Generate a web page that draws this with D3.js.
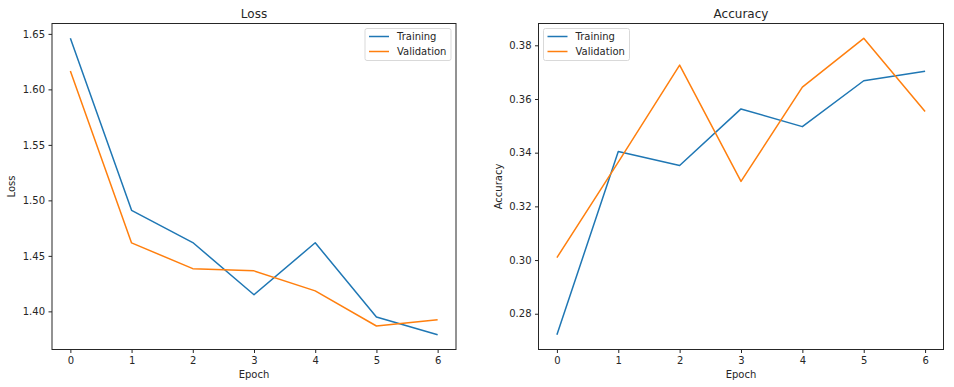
<!DOCTYPE html>
<html>
<head>
<meta charset="utf-8">
<script src="https://cdn.jsdelivr.net/npm/d3@7"></script>
<style>
    body { margin: 0; background: #fff; }
    svg text { font-family: "DejaVu Sans", sans-serif; fill: #262626; }
    .axis path, .axis line { stroke: #262626; }
</style>
</head>
<body>
<div id="chart"></div>
<script>

var epochs = [0, 1, 2, 3, 4, 5, 6];

var lossTrain = [1.6460, 1.4910, 1.4620, 1.4150, 1.4618, 1.3950, 1.3790];
var lossVal = [1.6165, 1.4617, 1.4385, 1.4365, 1.4185, 1.3868, 1.3925];

var accTrain = [0.2722, 0.3404, 0.3352, 0.3563, 0.3497, 0.3668, 0.3703];
var accVal = [0.3009, 0.3365, 0.3726, 0.3293, 0.3644, 0.3826, 0.3553];

var lossTicks = [1.40, 1.45, 1.50, 1.55, 1.60, 1.65];
var accTicks = [0.28, 0.30, 0.32, 0.34, 0.36, 0.38];

var seriesNames = ['Training', 'Validation'];
var colors = ['#1f77b4', '#ff7f0e'];

var width = 954, height = 387;

var svg = d3.select('#chart')
    .append('svg')
    .attr('width', width)
    .attr('height', height);

function padded(values) {
    var ext = d3.extent(values);
    var pad = (ext[1] - ext[0]) * 0.05;
    return [ext[0] - pad, ext[1] + pad];
}

function drawPanel(cfg) {

    var x = d3.scaleLinear()
        .domain([-0.3, 6.3])
        .range([cfg.left, cfg.right]);

    var y = d3.scaleLinear()
        .domain(padded(cfg.train.concat(cfg.val)))
        .range([349.5, 23.5]);

    var g = svg.append('g');

    g.append('g')
        .attr('class', 'axis')
        .attr('transform', 'translate(0,349.5)')
        .call(d3.axisBottom(x).tickValues(epochs).tickFormat(d3.format('d')).tickSize(3.5).tickPadding(3.5))
        .call(a => a.select('.domain').remove())
        .selectAll('text').style('font-size', '10px');

    g.append('g')
        .attr('class', 'axis')
        .attr('transform', 'translate(' + cfg.left + ',0)')
        .call(d3.axisLeft(y).tickValues(cfg.ticks).tickFormat(d3.format('.2f')).tickSize(3.5).tickPadding(3.5))
        .call(a => a.select('.domain').remove())
        .selectAll('text').style('font-size', '10px');

    var line = d3.line()
        .x((d, i) => x(epochs[i]))
        .y(d => y(d));

    [cfg.train, cfg.val].forEach(function(s, i) {
        g.append('path')
            .datum(s)
            .attr('d', line)
            .attr('fill', 'none')
            .attr('stroke', colors[i])
            .attr('stroke-width', 1.5)
            .attr('stroke-linejoin', 'round');
    });

    g.append('rect')
        .attr('x', cfg.left)
        .attr('y', 23.5)
        .attr('width', cfg.right - cfg.left)
        .attr('height', 326)
        .attr('fill', 'none')
        .attr('stroke', '#262626')
        .attr('stroke-width', 1);

    g.append('text')
        .attr('x', (cfg.left + cfg.right) / 2)
        .attr('y', 18)
        .attr('text-anchor', 'middle')
        .style('font-size', '12px')
        .text(cfg.title);

    g.append('text')
        .attr('x', (cfg.left + cfg.right) / 2)
        .attr('y', 378)
        .attr('text-anchor', 'middle')
        .style('font-size', '10px')
        .text('Epoch');

    g.append('text')
        .attr('transform', 'translate(' + cfg.ylabelX + ',' + (23.5 + 163) + ') rotate(-90)')
        .attr('text-anchor', 'middle')
        .style('font-size', '10px')
        .text(cfg.ylabel);

    // legend
    var lg = g.append('g')
        .attr('transform', 'translate(' + cfg.legendX + ',28.5)');

    lg.append('rect')
        .attr('width', 86)
        .attr('height', 32)
        .attr('rx', 2)
        .attr('fill', '#fff')
        .attr('fill-opacity', 0.8)
        .attr('stroke', '#d9d9d9');

    seriesNames.forEach(function(name, i) {
        var ly = 8 + i * 15;
        lg.append('line')
            .attr('x1', 4).attr('x2', 24)
            .attr('y1', ly).attr('y2', ly)
            .attr('stroke', colors[i])
            .attr('stroke-width', 1.5);
        lg.append('text')
            .attr('x', 32)
            .attr('y', ly + 3.5)
            .style('font-size', '10px')
            .text(name);
    });
}

drawPanel({
    left: 52, right: 456,
    train: lossTrain, val: lossVal, ticks: lossTicks,
    title: 'Loss', ylabel: 'Loss', ylabelX: 15, legendX: 365
});

drawPanel({
    left: 538.5, right: 943.5,
    train: accTrain, val: accVal, ticks: accTicks,
    title: 'Accuracy', ylabel: 'Accuracy', ylabelX: 502, legendX: 543.5
});

</script>
</body>
</html>
